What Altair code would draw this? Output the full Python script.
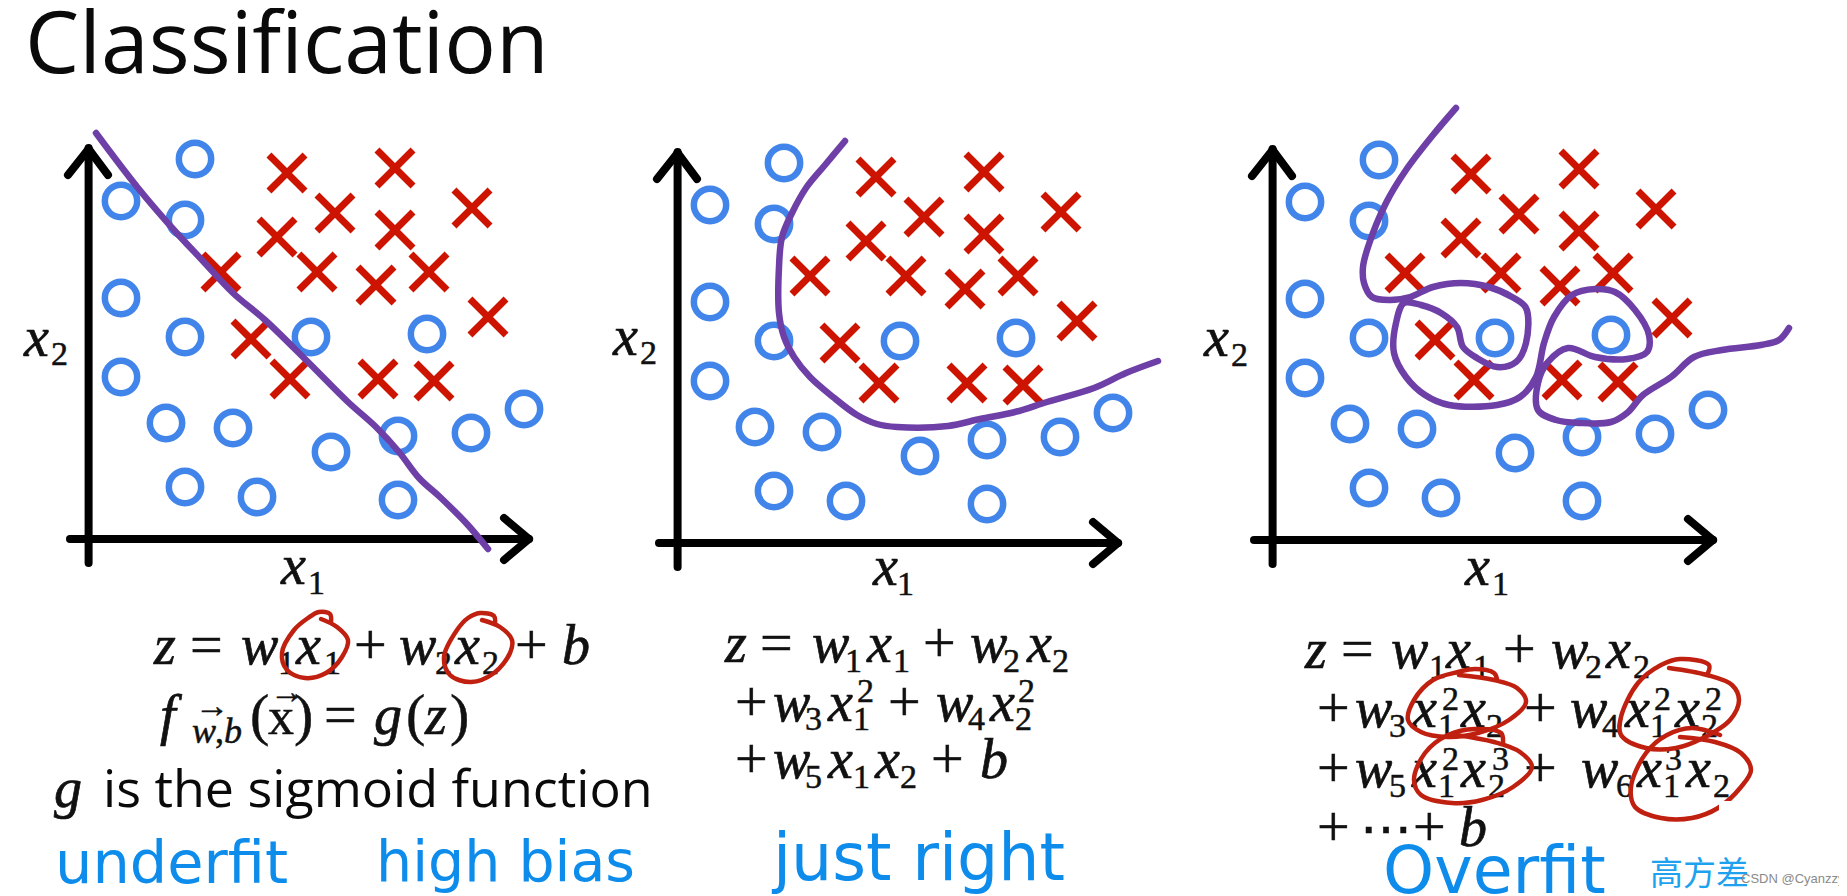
import altair as alt
import pandas as pd

# ---- panel shifts relative to the first panel
panel_dx = [0, 589, 1184]
panel_dy = [0, 4, 1]

# ---- scatter data (first panel)
circle_x = [195, 121, 185, 121, 185, 311, 427, 121, 166, 233, 331, 398, 471, 524, 185, 257, 398]
circle_y = [159, 201, 220, 298, 337, 337, 334, 377, 423, 428, 452, 436, 433, 409, 487, 497, 500]
cross_x = [287, 395, 335, 472, 277, 395, 221, 317, 429, 376, 488, 251, 290, 378, 434]
cross_y = [173, 168, 213, 208, 237, 230, 272, 272, 272, 285, 317, 339, 379, 379, 381]

# ---- decision boundaries
line1_x = [96, 138, 174, 202, 233, 265, 308, 348, 376, 399, 419, 441, 467, 488]
line1_y = [133, 188, 230, 260, 293, 320, 362, 402, 427, 452, 478, 498, 524, 549]
line2_x = [845, 825, 806, 792, 782, 779, 779, 784, 794, 810, 833, 857, 877, 897, 948, 980, 1015, 1047, 1094, 1126, 1158]
line2_y = [141, 165, 188, 213, 237, 267, 313, 337, 357, 377, 397, 415, 424, 427, 426, 419, 412, 402, 388, 373, 361]
line3_x = [1456, 1433, 1406, 1386, 1368, 1363, 1364, 1372, 1390, 1410, 1433, 1461, 1489, 1512, 1526, 1526, 1516, 1497,
           1477, 1463, 1457, 1441, 1421, 1404, 1396, 1394, 1406, 1425, 1449, 1497, 1520, 1536, 1544, 1554, 1572, 1595,
           1615, 1635, 1649, 1647, 1627, 1595, 1568, 1548, 1538, 1538, 1556, 1580, 1611, 1627, 1643, 1671, 1694, 1722,
           1761, 1779, 1789]
line3_y = [108, 135, 170, 203, 247, 267, 283, 297, 300, 297, 287, 283, 287, 297, 308, 343, 362, 367,
           358, 347, 327, 313, 305, 303, 323, 353, 377, 395, 405, 405, 397, 377, 343, 317, 295, 289,
           292, 310, 335, 352, 359, 357, 348, 362, 383, 410, 420, 423, 422, 413, 395, 377, 357, 350,
           345, 340, 328]

# ---- axes arrows (first panel): x, y, x2, y2
axis_x = [88.6, 70, 68, 108, 504, 504]
axis_y = [148, 539, 175, 175, 518, 560]
axis_x2 = [88.6, 529, 88.6, 88.6, 529, 529]
axis_y2 = [563, 539, 149, 149, 539, 539]

# ---- red hand-drawn loops
loops = [
    ([331, 330, 319, 308, 294, 282, 287, 305, 326, 342, 348, 337, 321],
     [622, 614, 612, 618, 630, 653, 670, 678, 673, 657, 640, 627, 619]),
    ([495, 494, 480, 468, 457, 444, 450, 471, 494, 510, 512, 500, 482],
     [623, 616, 613, 618, 630, 657, 675, 682, 673, 653, 640, 627, 620]),
    ([1497, 1494, 1475, 1458, 1433, 1414, 1408, 1421, 1448, 1478, 1509, 1526, 1517, 1494, 1459],
     [679, 673, 669, 672, 680, 700, 720, 732, 737, 733, 720, 702, 688, 680, 675]),
    ([1707, 1709, 1680, 1661, 1638, 1621, 1621, 1646, 1676, 1703, 1730, 1739, 1732, 1707, 1669],
     [675, 665, 659, 665, 683, 717, 735, 748, 748, 738, 720, 700, 685, 675, 668]),
    ([1503, 1501, 1475, 1448, 1425, 1414, 1421, 1452, 1482, 1513, 1532, 1520, 1494, 1456],
     [743, 733, 729, 735, 753, 780, 795, 803, 800, 787, 767, 752, 742, 735]),
    ([1720, 1692, 1667, 1646, 1631, 1635, 1661, 1692, 1718, 1741, 1751, 1741, 1715, 1680],
     [735, 728, 735, 753, 787, 807, 818, 818, 808, 787, 770, 753, 742, 737]),
]

# ---- texts
title_text = ["Classification"]
sans_text = ["is the sigmoid function"]
hand_text = ["underfit", "high bias", "just right", "Overfit"]
hand_x = [55, 376, 773, 1383]
hand_y = [883, 881, 880, 893]
hand_size = [59, 57, 65, 65]

ital_big = [
    # axis labels
    ("x", 24, 356), ("x", 281, 584), ("x", 613, 355), ("x", 873, 585), ("x", 1204, 356), ("x", 1465, 585),
    # panel 1
    ("z", 154, 664), ("w", 241, 664), ("x", 296, 664), ("w", 399, 664), ("x", 455, 664), ("b", 562, 664),
    ("f", 160, 734), ("g", 374, 734), ("z", 425, 734), ("g", 54, 807),
    # panel 2
    ("z", 725, 662), ("w", 812, 662), ("x", 867, 662), ("w", 970, 662), ("x", 1027, 662),
    ("w", 773, 721), ("x", 828, 721), ("w", 936, 721), ("x", 990, 721),
    ("w", 773, 778), ("x", 828, 778), ("x", 875, 778), ("b", 980, 778),
    # panel 3
    ("z", 1305, 668), ("w", 1391, 668), ("x", 1446, 668), ("w", 1551, 668), ("x", 1606, 668),
    ("w", 1355, 727), ("x", 1412, 727), ("x", 1461, 727), ("w", 1570, 727), ("x", 1625, 727), ("x", 1675, 727),
    ("w", 1355, 787), ("x", 1412, 787), ("x", 1461, 787), ("w", 1581, 787), ("x", 1637, 787), ("x", 1686, 787),
    ("b", 1459, 846),
]
plain_big = [
    ("=", 190, 664), ("+", 354, 664), ("+", 515, 664),
    ("(", 250, 734), (")", 294, 734), ("=", 324, 734), ("(", 406, 734), (")", 450, 734),
    ("=", 760, 662), ("+", 923, 662), ("+", 735, 721), ("+", 888, 721), ("+", 735, 778), ("+", 931, 778),
    ("=", 1341, 668), ("+", 1503, 668), ("+", 1317, 727), ("+", 1524, 727), ("+", 1317, 787), ("+", 1524, 787),
    ("+", 1317, 846), ("+", 1413, 846),
]
plain_mid = [("x", 268, 734), ("⋯", 1360, 846)]
small = [
    # axis labels
    ("2", 51, 365), ("1", 308, 594), ("2", 640, 364), ("1", 897, 595), ("2", 1231, 366), ("1", 1492, 595),
    # panel 1
    ("1", 278, 674), ("1", 324, 674), ("2", 435, 674), ("2", 482, 674),
    ("→", 270, 703), ("→", 195, 717),
    # panel 2
    ("1", 845, 672), ("1", 893, 672), ("2", 1003, 672), ("2", 1052, 672),
    ("3", 805, 730), ("1", 853, 730), ("2", 857, 702), ("4", 968, 730), ("2", 1015, 730), ("2", 1018, 702),
    ("5", 805, 788), ("1", 853, 788), ("2", 900, 788),
    # panel 3
    ("1", 1429, 678), ("1", 1473, 678), ("2", 1585, 678), ("2", 1633, 678),
    ("3", 1389, 737), ("1", 1438, 737), ("2", 1442, 710), ("2", 1486, 737),
    ("4", 1602, 737), ("1", 1650, 737), ("2", 1654, 710), ("2", 1701, 737), ("2", 1705, 710),
    ("5", 1389, 797), ("1", 1438, 797), ("2", 1442, 770), ("2", 1488, 797), ("3", 1492, 770),
    ("6", 1616, 797), ("1", 1663, 797), ("3", 1665, 770), ("2", 1713, 797),
]
sub_fx = [("w", 192, 743), ("b", 224, 743)]
sub_fx_comma = [(",", 215, 743)]

# ---- scales: values are image pixels
X = alt.X("x:Q", scale=alt.Scale(domain=[8, 1839]), axis=None)
Y = alt.Y("y:Q", scale=alt.Scale(domain=[896, 8]), axis=None)
X2 = alt.X2("x2:Q")
Y2 = alt.Y2("y2:Q")

rows_c, rows_k, rows_a = [], [], []
for p, (dx, dy) in enumerate(zip(panel_dx, panel_dy)):
    rows_c += [dict(x=a + dx, y=b + dy) for a, b in zip(circle_x, circle_y)]
    rows_k += [dict(x=a + dx, y=b + dy) for a, b in zip(cross_x, cross_y)]
    rows_a += [dict(x=a + dx, y=b + dy, x2=c + dx, y2=d + dy)
               for a, b, c, d in zip(axis_x, axis_y, axis_x2, axis_y2)]

axes = alt.Chart(pd.DataFrame(rows_a)).mark_rule(color="#000000", strokeWidth=8, strokeCap="round").encode(X, Y, X2, Y2)
circles = alt.Chart(pd.DataFrame(rows_c)).mark_point(
    shape="circle", filled=False, size=1046, stroke="#4285ea", strokeWidth=6.5, opacity=1
).encode(X, Y)
crosses = alt.Chart(pd.DataFrame(rows_k)).mark_point(
    shape="M-1,-1L1,1M-1,1L1,-1", filled=False, size=1300, stroke="#cc1400", strokeWidth=7, opacity=1
).encode(X, Y)


def path_layer(xs, ys, color, width, interp="catmull-rom"):
    df = pd.DataFrame({"x": xs, "y": ys, "i": range(len(xs))})
    return alt.Chart(df).mark_line(color=color, strokeWidth=width, interpolate=interp, strokeCap="round",
                                   strokeJoin="round").encode(X, Y, order="i:Q")


boundaries = [path_layer(a, b, "#6e3fa6", 6.5) for a, b in
              [(line1_x, line1_y), (line2_x, line2_y), (line3_x, line3_y)]]
red_loops = [path_layer(a, b, "#c0200f", 4.5) for a, b in loops]

mask = alt.Chart(pd.DataFrame({"x": [1719], "x2": [1800], "y": [801], "y2": [860]})).mark_rect(
    color="#ffffff").encode(X, Y, X2, Y2)


def text_layer(items, font, size, color="#111111", style="normal", heavy=0.0):
    df = pd.DataFrame(items, columns=["t", "x", "y"])
    kw = dict(stroke=color, strokeWidth=heavy) if heavy else {}
    return alt.Chart(df).mark_text(font=font, fontSize=size, fontStyle=style, color=color, align="left",
                                   baseline="alphabetic", **kw).encode(X, Y, text="t:N")


math = "Liberation Serif"
hand_layers = [text_layer([(t, a, b)], "DejaVu Sans", s, "#0d8ceb")
               for t, a, b, s in zip(hand_text, hand_x, hand_y, hand_size)]
layers = [
    axes, circles, crosses, *boundaries,
    text_layer(ital_big, math, 56, style="italic", heavy=0.7),
    text_layer(plain_big, math, 58, heavy=0.5),
    text_layer(plain_mid, math, 52, heavy=0.5),
    text_layer(small, math, 34, heavy=0.5),
    text_layer(sub_fx, math, 36, style="italic", heavy=0.5),
    text_layer(sub_fx_comma, math, 36, heavy=0.5),
    text_layer(list(zip(title_text, [25], [73])), "Open Sans", 86, "#0a0a0a"),
    text_layer(list(zip(sans_text, [103], [807])), "Open Sans", 52, "#0a0a0a"),
    *red_loops, mask,
    *hand_layers,
    text_layer([("高方差", 1650, 885)], "Noto Sans CJK SC", 33, "#1ea1ee"),
    text_layer([("CSDN @Cyanzzy", 1741, 883)], "Liberation Sans", 13, "#8a8a8a"),
]

chart = alt.layer(*layers).properties(
    width=1831, height=888, padding=0, background="#ffffff",
    autosize=alt.AutoSizeParams(type="none"),
).configure_view(stroke=None)

chart.save("out.html", embed_options={"renderer": "svg", "actions": False})
